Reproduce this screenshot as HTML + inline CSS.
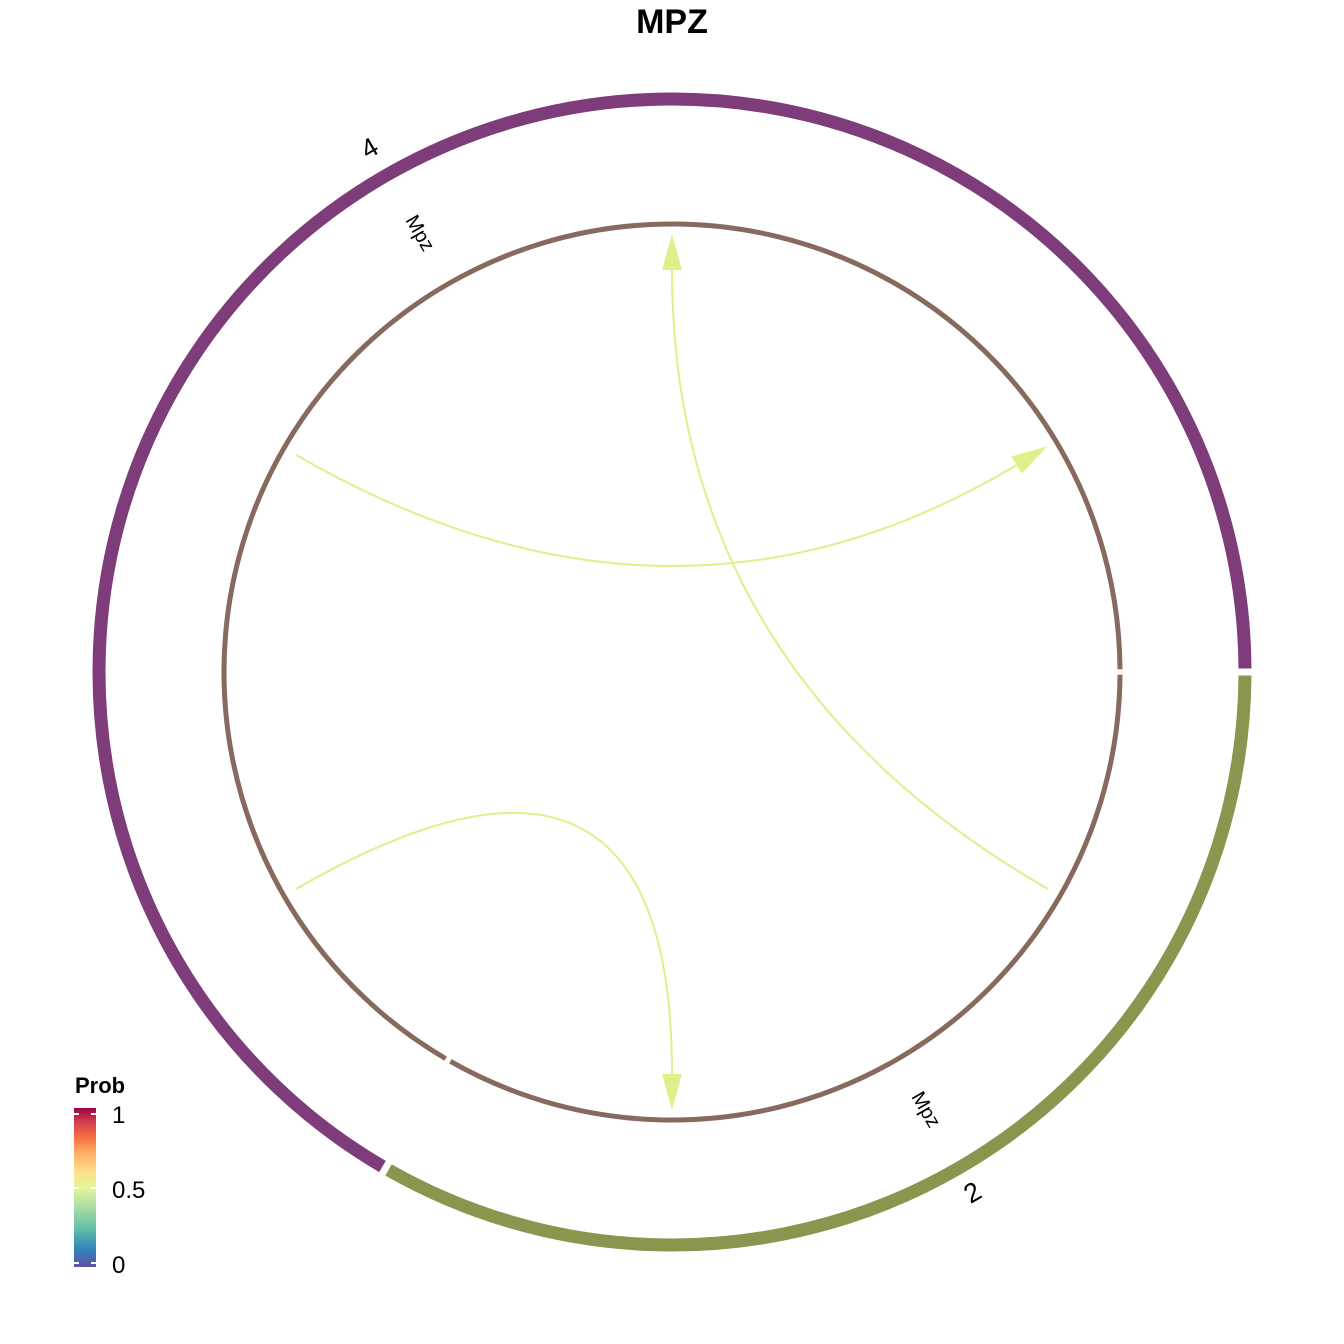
<!DOCTYPE html>
<html><head><meta charset="utf-8"><style>
html,body{margin:0;padding:0;background:#fff}
svg{display:block}
text{font-family:"Liberation Sans",Arial,sans-serif}
</style></head><body>
<svg id="chart" width="1344" height="1344" viewBox="0 0 1344 1344">
<defs>
<linearGradient id="spec" x1="0" y1="1" x2="0" y2="0">
<stop offset="0" stop-color="#5E4FA2"/><stop offset="0.12" stop-color="#3288BD"/>
<stop offset="0.25" stop-color="#66C2A5"/><stop offset="0.38" stop-color="#ABDDA4"/>
<stop offset="0.5" stop-color="#E6F598"/><stop offset="0.6" stop-color="#FEE08B"/>
<stop offset="0.72" stop-color="#FDAE61"/><stop offset="0.82" stop-color="#F46D43"/>
<stop offset="0.91" stop-color="#D53E4F"/><stop offset="1" stop-color="#9E0142"/></linearGradient>
</defs>
<text x="672" y="33" font-size="34" font-weight="bold" text-anchor="middle">MPZ</text>
<g id="rings"></g>
<g id="links"></g>
<g id="labels"></g>
<g>
<text x="75" y="1093" font-size="22" font-weight="bold">Prob</text>
<rect x="74" y="1108" width="22" height="159" fill="url(#spec)"/>
<g stroke="#fff" stroke-width="2">
<line x1="74" y1="1114" x2="79" y2="1114"/><line x1="91" y1="1114" x2="96" y2="1114"/>
<line x1="74" y1="1188" x2="79" y2="1188"/><line x1="91" y1="1188" x2="96" y2="1188"/>
<line x1="74" y1="1263" x2="79" y2="1263"/><line x1="91" y1="1263" x2="96" y2="1263"/>
</g>
<text x="112" y="1123" font-size="24">1</text>
<text x="112" y="1198" font-size="24">0.5</text>
<text x="112" y="1273" font-size="24">0</text>
</g>
</svg>
<script>
const sectors = ['2','4'];
const sectorStart = [0, 120];
const sectorEnd = [120, 360];
const sectorColors = ['#88964E','#7F3C7A'];
const linkFrom = [210, 30, 150];
const linkTo = [329, 270, 90];
const linkProb = [0.5, 0.5, 0.5];
const NS='http://www.w3.org/2000/svg';
const cx=672, cy=672, rOuter=573, rInner=448, rLink=434;
function pt(a,r){const t=a*Math.PI/180;return [cx+r*Math.cos(t),cy+r*Math.sin(t)];}
function arc(a0,a1,r){const p=pt(a0,r),q=pt(a1,r);const large=(a1-a0)>180?1:0;return `M${p[0]},${p[1]} A${r},${r} 0 ${large} 1 ${q[0]},${q[1]}`;}
function mk(tag,attrs,parent){const e=document.createElementNS(NS,tag);for(const k in attrs)e.setAttribute(k,attrs[k]);parent.appendChild(e);return e;}
function probColor(p){const stops=['#5E4FA2','#3288BD','#66C2A5','#99D5A4','#C4E89C','#DDF08A','#FEE08B','#FDAE61','#F46D43','#D53E4F','#9E0142'];return stops[Math.round(p*10)];}
const rings=document.getElementById('rings');
for(let i=0;i<sectors.length;i++){
  const o=mk('path',{d:arc(sectorStart[i]+0.35,sectorEnd[i]-0.35,rOuter),fill:'none',stroke:sectorColors[i],'stroke-width':13},rings);
  
  
  const n=mk('path',{d:arc(sectorStart[i]+0.35,sectorEnd[i]-0.35,rInner),fill:'none',stroke:'#87695F','stroke-width':5},rings);
  
  
}
const links=document.getElementById('links');
for(let i=0;i<linkFrom.length;i++){
  const a=pt(linkFrom[i],rLink), tip=pt(linkTo[i],rLink+4);
  const col=probColor(linkProb[i]);
  const dx=tip[0]-cx, dy=tip[1]-cy, L=Math.hypot(dx,dy), ux=dx/L, uy=dy/L;
  const base=[tip[0]-ux*36, tip[1]-uy*36];
  const l=mk('path',{d:`M${a[0]},${a[1]} Q${cx},${cy} ${base[0]},${base[1]}`,fill:'none',stroke:col,'stroke-width':2},links);
  
  
  const px=-uy*10, py=ux*10;
  const h=mk('polygon',{points:`${tip[0]},${tip[1]} ${base[0]+px},${base[1]+py} ${base[0]-px},${base[1]-py}`,fill:col},links);
  
  
}
const labels=document.getElementById('labels');
for(let i=0;i<sectors.length;i++){
  const lab = i===0 ? 60 : 240;
  const p=pt(lab,rOuter+30);
  const t=mk('text',{x:p[0],y:p[1],'font-size':27,'text-anchor':'middle','dominant-baseline':'middle',transform:`rotate(${lab+90+(i===0?180:0)} ${p[0]} ${p[1]})`},labels);
  t.textContent=sectors[i];
  
  
  const q=pt(lab,rInner+58);
  const g=mk('text',{x:q[0],y:q[1],'font-size':20,'text-anchor':'middle','dominant-baseline':'middle',transform:`rotate(${lab+(i===0?0:180)} ${q[0]} ${q[1]})`},labels);
  g.textContent='Mpz';
  
  
}
</script>
</body></html>
